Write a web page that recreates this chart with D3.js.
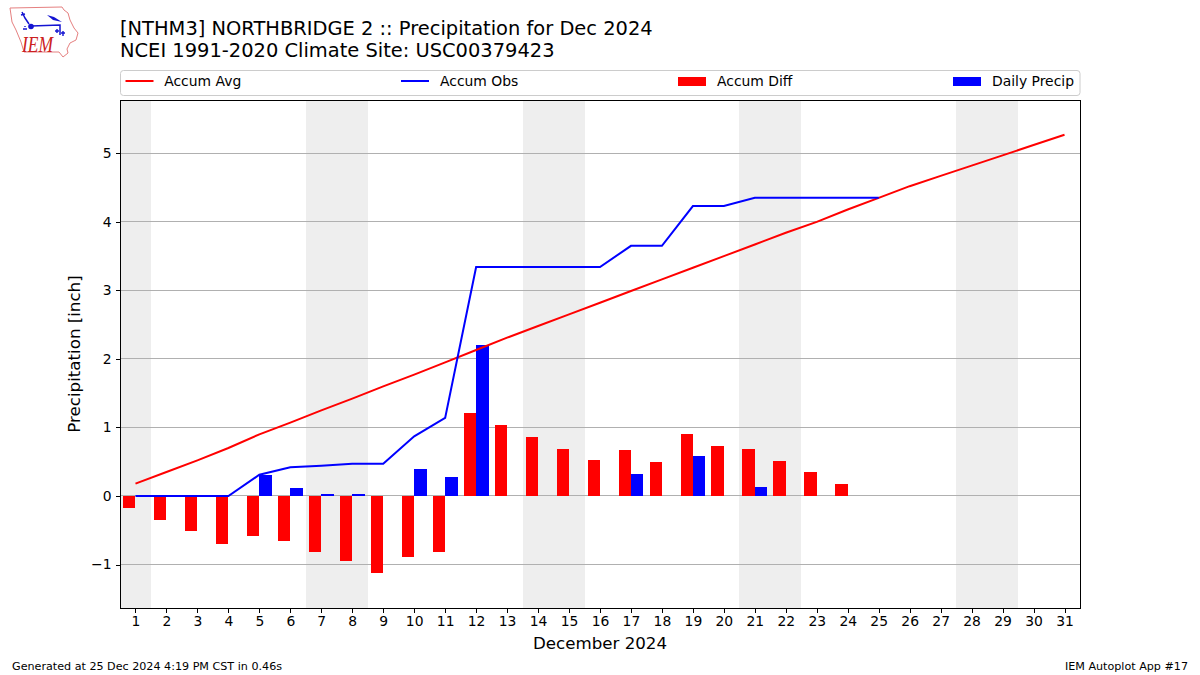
<!DOCTYPE html>
<html><head><meta charset="utf-8">
<script src="https://cdn.jsdelivr.net/npm/d3@7"></script>
<style>html,body{margin:0;padding:0;background:#fff}svg{display:block}text{font-family:"DejaVu Sans",sans-serif;fill:#000}</style>
</head><body><svg id="c" width="1200" height="675"></svg>
<script>
const days = d3.range(1, 32);
const accumAvg = [.18,.35,.52,.70,.90,1.07,1.25,1.42,1.60,1.77,1.95,2.13,2.31,2.48,2.65,2.82,2.99,3.16,3.33,3.50,3.67,3.84,4.00,4.18,4.35,4.52,4.67,4.82,4.97,5.12,5.27];
const accumObs = [0,0,0,0,.31,.42,.44,.47,.47,.87,1.14,3.34,3.34,3.34,3.34,3.34,3.65,3.65,4.23,4.23,4.35,4.35,4.35,4.35,4.35];
const accumDiff = [-.18,-.35,-.51,-.70,-.59,-.65,-.81,-.95,-1.13,-.89,-.81,1.21,1.03,.86,.69,.52,.67,.49,.90,.73,.68,.51,.35,.17,0];
const dailyPrecip = [0,0,0,0,.31,.12,.03,.03,0,.40,.27,2.20,0,0,0,0,.32,0,.58,0,.13,0,0,0,0];
const weekends = [[.5,1.5],[6.5,8.5],[13.5,15.5],[20.5,22.5],[27.5,29.5]];
const yTicks = [-1,0,1,2,3,4,5];
const titleLines = ["[NTHM3] NORTHBRIDGE 2 :: Precipitation for Dec 2024","NCEI 1991-2020 Climate Site: USC00379423"];
const xLabel = "December 2024", yLabel = "Precipitation [inch]";
const footLeft = "Generated at 25 Dec 2024 4:19 PM CST in 0.46s", footRight = "IEM Autoplot App #17";

const L=120,R=1080,T=100,B=608;
const x=d3.scaleLinear().domain([.5,31.5]).range([L,R]);
const y=d3.scaleLinear().domain([-1.634,5.77]).range([B,T+.5]);
const svg=d3.select("#c");

svg.selectAll("rect.wk").data(weekends).join("rect").attr("class","wk")
 .attr("x",d=>x(d[0])).attr("width",d=>x(d[1])-x(d[0])).attr("y",T).attr("height",B-T).attr("fill","#eeeeee").attr("shape-rendering","crispEdges");
svg.selectAll("line.g").data(yTicks).join("line").attr("class","g")
 .attr("x1",L).attr("x2",R).attr("y1",d=>Math.floor(y(d))+.5).attr("y2",d=>Math.floor(y(d))+.5).attr("stroke","#b0b0b0").attr("stroke-width",1);

const bw=.4;
svg.selectAll("rect.diff").data(accumDiff).join("rect").attr("class","diff")
 .attr("x",(d,i)=>x(days[i]-bw)).attr("width",(d,i)=>x(days[i])-x(days[i]-bw))
 .attr("y",d=>y(Math.max(d,0))).attr("height",d=>Math.abs(y(d)-y(0))).attr("fill","#ff0000").attr("shape-rendering","crispEdges");
svg.selectAll("rect.daily").data(dailyPrecip).join("rect").attr("class","daily")
 .attr("x",(d,i)=>x(days[i])).attr("width",(d,i)=>x(days[i]+bw)-x(days[i]))
 .attr("y",d=>y(d)).attr("height",d=>y(0)-y(d)).attr("fill","#0000ff").attr("shape-rendering","crispEdges");

const line=d3.line().x((d,i)=>x(days[i])).y(d=>y(d));
svg.append("path").attr("d",line(accumAvg)).attr("fill","none").attr("stroke","#ff0000").attr("stroke-width",2);
svg.append("path").attr("d",line(accumObs)).attr("fill","none").attr("stroke","#0000ff").attr("stroke-width",2);

svg.append("rect").attr("x",L+.5).attr("y",T+.5).attr("width",R-L).attr("height",B-T).attr("fill","none").attr("stroke","#000").attr("stroke-width",1);

const xAxis=d3.axisBottom(x).tickValues(days).tickFormat(d3.format("d")).tickSize(4.5).tickPadding(4);
const gx=svg.append("g").attr("transform",`translate(0,${B})`).call(xAxis);
const yAxis=d3.axisLeft(y).tickValues(yTicks).tickFormat(d=>d<0?"\u2212"+Math.abs(d):d).tickSize(4.5).tickPadding(4);
const gy=svg.append("g").attr("transform",`translate(${L},0)`).call(yAxis);
[gx,gy].forEach(g=>{g.select(".domain").remove();g.selectAll("text").attr("font-size",13.9).attr("fill","#000");g.selectAll("line").attr("stroke","#000").attr("shape-rendering","crispEdges");});

svg.selectAll("text.title").data(titleLines).join("text").attr("class","title")
 .attr("x",120).attr("y",(d,i)=>35+i*22).attr("font-size",19.45).text(d=>d);
svg.append("text").attr("x",600).attr("y",649).attr("text-anchor","middle").attr("font-size",16.67).text(xLabel);
svg.append("text").attr("transform","translate(80,354) rotate(-90)").attr("text-anchor","middle").attr("font-size",16.67).text(yLabel);
svg.append("text").attr("x",12).attr("y",670).attr("font-size",11.15).text(footLeft);
svg.append("text").attr("x",1188).attr("y",670).attr("text-anchor","end").attr("font-size",11.15).text(footRight);

// legend
svg.append("rect").attr("x",120.5).attr("y",70.5).attr("width",959.5).attr("height",25).attr("rx",3).attr("fill","#fff").attr("stroke","#cccccc");
const legendItems=[["Accum Avg","line","#ff0000",125.5],["Accum Obs","line","#0000ff",401],["Accum Diff","bar","#ff0000",678],["Daily Precip","bar","#0000ff",953]];
legendItems.forEach(([t,k,c,lx])=>{
 if(k==="line") svg.append("line").attr("x1",lx).attr("x2",lx+28).attr("y1",81).attr("y2",81).attr("stroke",c).attr("stroke-width",2);
 else svg.append("rect").attr("x",lx).attr("y",77).attr("width",28).attr("height",9).attr("fill",c);
 svg.append("text").attr("x",lx+(k==="line"&&lx<200?38.7:39)).attr("y",86).attr("font-size",13.9).text(t);
});

// logo
const logo=svg.append("g");
logo.append("path").attr("d","M10,8 L62,7 L64,10 L68,13 L70,20 L74,28 L78,33 L76,40 L70,43 L67,49 L68,53 L63,57 L59,52 L24,52 L21,42 L16,30 L12,22 Z").attr("fill","none").attr("stroke","#e58080").attr("stroke-width",1);
logo.append("path").attr("d","M31,26 L60,25 L60,35 M22,12 L25,18 L29,24 M21,15 L25,14").attr("fill","none").attr("stroke","#1414d2").attr("stroke-width",1.5);
logo.append("path").attr("d","M47,15 L54,17 L62,22 L53,20 Z").attr("fill","#1414d2");
logo.append("circle").attr("cx",31).attr("cy",26.5).attr("r",2.8).attr("fill","#1414d2");
logo.append("path").attr("d","M55,31 h4 M57,29 v4 M61,33 h4 M63,31 v5 M23,29 h4 M25,26 v1").attr("stroke","#1414d2").attr("stroke-width",1.4).attr("fill","none");
logo.append("text").attr("transform","translate(22,52) scale(1,1.35)").attr("font-size",17.5).attr("font-style","italic").style("font-family",'"Liberation Serif",serif').style("fill","#cc2020").text("IEM");
</script></body></html>
